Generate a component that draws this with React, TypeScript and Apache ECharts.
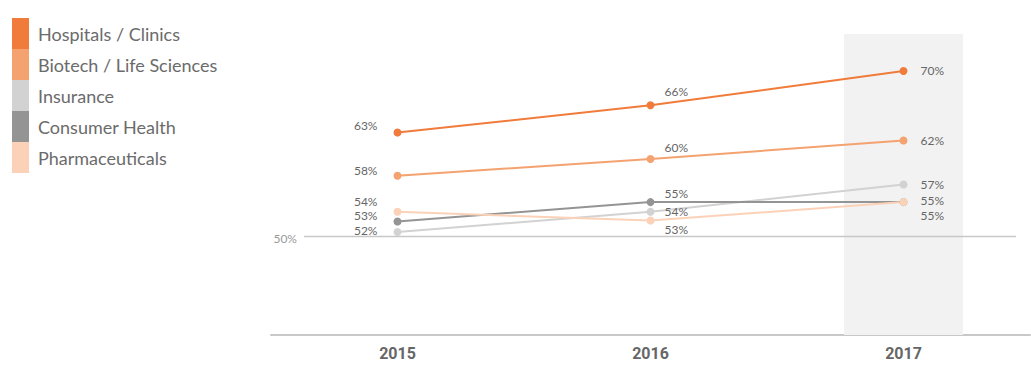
import React, { useEffect, useRef } from "react";
import * as echarts from "echarts";

const categories = ["2015", "2016", "2017"];
const seriesNames = [
  "Hospitals / Clinics",
  "Biotech / Life Sciences",
  "Insurance",
  "Consumer Health",
  "Pharmaceuticals",
];
const hospitals = [63, 66.1, 70];
const biotech = [58.1, 60, 62.1];
const insurance = [51.7, 54, 57.1];
const consumerHealth = [52.9, 55.1, 55.1];
const pharmaceuticals = [54, 53, 55.1];
const referenceValue = 51.2;
const referenceLabel = "50%";
const highlightCategory = "2017";
const yMin = 40;
const yMax = 74.2;

const seriesValues = [hospitals, biotech, insurance, consumerHealth, pharmaceuticals];
const colors = ["#F07B3B", "#F4A26F", "#D2D2D2", "#949494", "#FBD2B8"];

// label placement per point: [position, vertical offset]
const labelLayout: [string, number][][] = [
  [["left", -7], ["right", -14], ["right", 0]],
  [["left", -5], ["right", -11], ["right", 0]],
  [["left", -2], ["right", 0], ["right", 0]],
  [["left", -6], ["right", -9], ["right", -2]],
  [["left", -10], ["right", 9], ["right", 13]],
];
const labelDistance = [16, 10, 13];

export default function App() {
  const ref = useRef<HTMLDivElement>(null);
  useEffect(() => {
    if (!ref.current) return;
    const chart = echarts.init(ref.current, null, { renderer: "svg" });
    const font = "Lato, 'Open Sans', sans-serif";
    const lineSeries = seriesNames.map((name, si) => ({
      name,
      type: "line",
      z: 3,
      data: seriesValues[si].map((v, i) => ({
        value: v,
        label: {
          position: labelLayout[si][i][0],
          offset: [0, labelLayout[si][i][1]],
          distance: labelDistance[i],
        },
      })),
      symbol: "circle",
      symbolSize: 8,
      lineStyle: { width: 2, color: colors[si] },
      itemStyle: { color: colors[si] },
      label: {
        show: true,
        formatter: (p: any) => Math.round(p.value) + "%",
        color: "#666",
        fontSize: 12,
        fontFamily: font,
      },
    }));
    chart.setOption({
      animation: false,
      legend: {
        orient: "vertical",
        left: 12,
        top: 18,
        padding: 0,
        icon: "rect",
        itemWidth: 17,
        itemHeight: 31,
        itemGap: 0,
        selectedMode: false,
        data: seriesNames,
        textStyle: { fontSize: 18, color: "#6b6b6b", fontFamily: font, padding: [0, 0, 0, 4] },
      },
      grid: { left: 271, top: 34, width: 759, height: 301 },
      xAxis: {
        type: "category",
        data: categories,
        axisLine: { lineStyle: { color: "#c8c8c8", width: 2 } },
        axisTick: { lineStyle: { color: "#c8c8c8" }, length: 5 },
        axisLabel: {
          color: "#666",
          fontSize: 16,
          fontWeight: "bold",
          fontFamily: "Roboto, sans-serif",
          margin: 10,
        },
      },
      yAxis: { type: "value", min: yMin, max: yMax, show: false, splitLine: { show: false } },
      series: [
        {
          name: "highlight",
          type: "bar",
          silent: true,
          z: 1,
          barWidth: 119,
          itemStyle: { color: "#f2f2f2" },
          data: categories.map((c) => (c === highlightCategory ? yMax : null)),
        },
        ...lineSeries,
      ],
    });
    const y = chart.convertToPixel({ yAxisIndex: 0 }, referenceValue) as number;
    chart.setOption({
      graphic: [
        {
          type: "line",
          z: 2,
          shape: { x1: 304, y1: y, x2: 1016, y2: y },
          style: { stroke: "#c8c8c8", lineWidth: 1.5 },
        },
        {
          type: "text",
          x: 297,
          y: y + 2.5,
          style: {
            text: referenceLabel,
            fill: "#9a9a9a",
            fontSize: 12,
            fontFamily: font,
            align: "right",
            verticalAlign: "middle",
          },
        },
      ],
    });
    return () => chart.dispose();
  }, []);
  return (
    <div
      ref={ref}
      style={{ position: "fixed", left: 0, top: 0, width: 1031, height: 384, background: "#fff" }}
    />
  );
}
